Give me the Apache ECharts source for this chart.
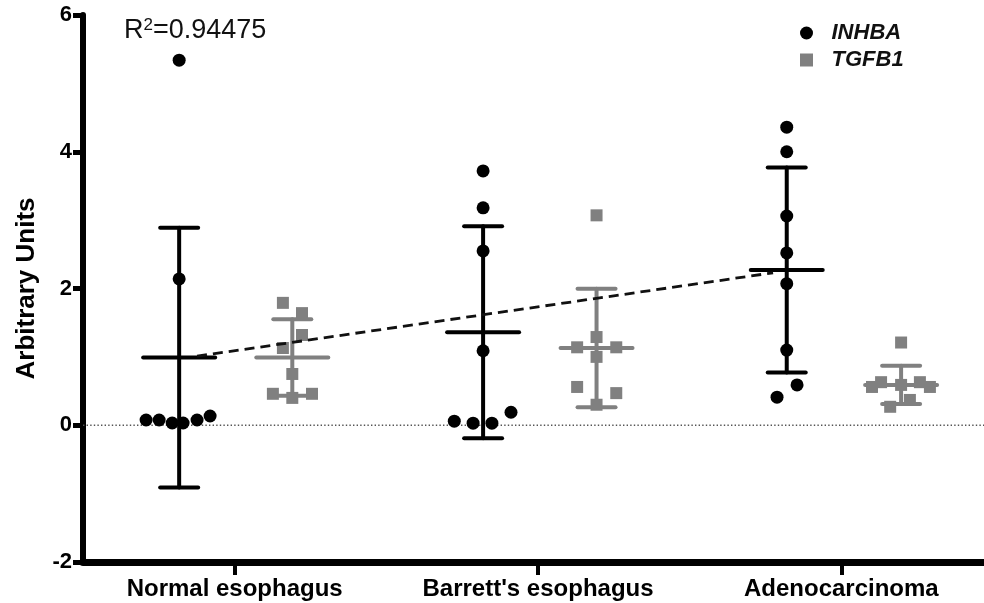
<!DOCTYPE html>
<html>
<head>
<meta charset="utf-8">
<script src="https://cdn.jsdelivr.net/npm/echarts@6/dist/echarts.min.js"></script>
<style>
  html, body { margin: 0; padding: 0; background: #fff; }
  #chart { width: 984px; height: 603px; }
</style>
</head>
<body>
<div id="chart"></div>
<script>
// ---- data ----
const categories = ["Normal esophagus", "Barrett's esophagus", "Adenocarcinoma"];
const categoryPos = [0.5, 1.5, 2.5];   // group centres on the x scale
const xMax = 2.9703;                   // axis runs past the right edge of the picture
const yTicks = [-2, 0, 2, 4, 6];

// INHBA individual points (x = position along the group axis, y = value)
const inhbaX = [0.317, 0.317, 0.208, 0.251, 0.294, 0.330, 0.376, 0.419,
                1.319, 1.319, 1.319, 1.319, 1.224, 1.286, 1.348, 1.411,
                2.320, 2.320, 2.320, 2.320, 2.320, 2.320, 2.354, 2.288];
const inhbaY = [5.34, 2.14, 0.077, 0.077, 0.033, 0.033, 0.077, 0.135,
                3.72, 3.18, 2.55, 1.09, 0.06, 0.03, 0.03, 0.19,
                4.36, 4.00, 3.06, 2.52, 2.07, 1.10, 0.59, 0.41];

// TGFB1 individual points
const tgfb1X = [0.659, 0.722, 0.722, 0.659, 0.690, 0.626, 0.690, 0.755,
                1.693, 1.693, 1.629, 1.758, 1.693, 1.629, 1.758, 1.693,
                2.697, 2.631, 2.759, 2.601, 2.792, 2.697, 2.726, 2.661];
const tgfb1Y = [1.79, 1.64, 1.32, 1.13, 0.75, 0.46, 0.40, 0.46,
                3.07, 1.29, 1.14, 1.14, 1.00, 0.56, 0.47, 0.30,
                1.21, 0.63, 0.63, 0.56, 0.56, 0.59, 0.37, 0.27];

// Mean ± SD per group
const inhbaMeanX = [0.317, 1.319, 2.320];
const inhbaMean  = [0.99, 1.36, 2.27];
const inhbaSD    = [1.90, 1.55, 1.50];
const tgfb1MeanX = [0.690, 1.693, 2.697];
const tgfb1Mean  = [0.99, 1.13, 0.59];
const tgfb1SD    = [0.56, 0.865, 0.28];

// Linear trend of INHBA means
const trendX = [0.376, 2.275];
const trendY = [1.01, 2.23];
const r2Value = '0.94475';

// zero reference line
const zeroX = [0, xMax];
const zeroY = [0, 0];

// ---- chart ----
const BLACK = '#000000';
const GRAY = '#808080';
const FONT = 'Liberation Sans, Arial, Helvetica, sans-serif';

function zip(xs, ys) { return xs.map((x, i) => [x, ys[i]]); }

function errorBars(name, color, xs, means, sds) {
  return {
    type: 'custom',
    name: name,
    xAxisIndex: 0,
    yAxisIndex: 0,
    silent: true,
    z: 3,
    data: xs.map((x, i) => [x, means[i], sds[i]]),
    renderItem: function (params, api) {
      const x = api.value(0), m = api.value(1), s = api.value(2);
      const c = api.coord([x, m]);
      const t = api.coord([x, m + s]);
      const b = api.coord([x, m - s]);
      const style = { stroke: color, lineWidth: 4, lineCap: 'round' };
      const mw = 36, cw = 19;
      return {
        type: 'group',
        children: [
          { type: 'line', shape: { x1: t[0], y1: t[1], x2: b[0], y2: b[1] }, style: style },
          { type: 'line', shape: { x1: c[0] - mw, y1: c[1], x2: c[0] + mw, y2: c[1] }, style: style },
          { type: 'line', shape: { x1: t[0] - cw, y1: t[1], x2: t[0] + cw, y2: t[1] }, style: style },
          { type: 'line', shape: { x1: b[0] - cw, y1: b[1], x2: b[0] + cw, y2: b[1] }, style: style }
        ]
      };
    }
  };
}

const chart = echarts.init(document.getElementById('chart'), null, { renderer: 'canvas' });

chart.setOption({
  backgroundColor: '#ffffff',
  animation: false,
  textStyle: { fontFamily: FONT },
  title: {
    text: '{r|R}{s|2}{r|=' + r2Value + '}',
    left: 124,
    top: 17,
    padding: 0,
    textStyle: {
      fontFamily: FONT, fontSize: 27, fontWeight: 'normal', color: '#111',
      rich: {
        r: { fontFamily: FONT, fontSize: 27, color: '#111' },
        s: { fontFamily: FONT, fontSize: 17, color: '#111', verticalAlign: 'top', padding: [0, 0, 8, 0] }
      }
    }
  },
  legend: {
    orient: 'vertical',
    left: 800,
    top: 22,
    itemWidth: 40,
    itemHeight: 13,
    itemGap: 5,
    padding: 0,
    selectedMode: false,
    textStyle: { fontFamily: FONT, fontSize: 22, fontWeight: 'bold', fontStyle: 'italic', color: '#111' },
    data: [
      { name: 'INHBA', icon: 'circle', itemStyle: { color: BLACK } },
      { name: 'TGFB1', icon: 'path://M0,0H12V12H0Z', itemStyle: { color: GRAY } }
    ]
  },
  grid: { left: 83, top: 15, right: 0, height: 547, containLabel: false, outerBoundsMode: 'none' },
  xAxis: {
    type: 'value',
    min: 0,
    max: xMax,
    axisLine: { show: true, onZero: false, lineStyle: { color: BLACK, width: 7 } },
    axisTick: { show: true, inside: false, customValues: categoryPos, length: 13, lineStyle: { color: BLACK, width: 4 } },
    axisLabel: {
      show: true,
      customValues: categoryPos,
      formatter: function (v) {
        const i = categoryPos.findIndex(p => Math.abs(p - v) < 1e-6);
        return i >= 0 ? categories[i] : '';
      },
      color: BLACK, fontFamily: FONT, fontSize: 24, fontWeight: 'bold', margin: 15,
      hideOverlap: false
    },
    splitLine: { show: false }
  },
  yAxis: {
    type: 'value',
    min: yTicks[0],
    max: yTicks[yTicks.length - 1],
    interval: 2,
    name: 'Arbitrary Units',
    nameLocation: 'middle',
    nameRotate: 90,
    nameGap: 43,
    nameTextStyle: { color: BLACK, fontFamily: FONT, fontSize: 26, fontWeight: 'bold' },
    axisLine: { show: true, onZero: false, lineStyle: { color: BLACK, width: 6 } },
    axisTick: { show: true, length: 10, lineStyle: { color: BLACK, width: 5 } },
    axisLabel: { color: BLACK, fontFamily: FONT, fontSize: 22, fontWeight: 'bold', margin: 11 },
    splitLine: { show: false }
  },
  series: [
    {
      name: 'zero',
      type: 'line',
      data: zip(zeroX, zeroY),
      symbol: 'none',
      silent: true,
      z: 1,
      lineStyle: { color: '#555', width: 1.4, type: [1.4, 2.2] }
    },
    errorBars('INHBA_sd', BLACK, inhbaMeanX, inhbaMean, inhbaSD),
    errorBars('TGFB1_sd', GRAY, tgfb1MeanX, tgfb1Mean, tgfb1SD),
    {
      name: 'INHBA',
      type: 'scatter',
      symbol: 'circle',
      symbolSize: 13,
      z: 4,
      itemStyle: { color: BLACK, opacity: 1 },
      data: zip(inhbaX, inhbaY)
    },
    {
      name: 'TGFB1',
      type: 'scatter',
      symbol: 'rect',
      symbolSize: 12,
      z: 4,
      itemStyle: { color: GRAY, opacity: 1 },
      data: zip(tgfb1X, tgfb1Y)
    },
    {
      name: 'trend',
      type: 'line',
      data: zip(trendX, trendY),
      symbol: 'none',
      silent: true,
      z: 6,
      lineStyle: { color: '#111', width: 2.8, type: [10, 6] }
    }
  ]
});
</script>
</body>
</html>
